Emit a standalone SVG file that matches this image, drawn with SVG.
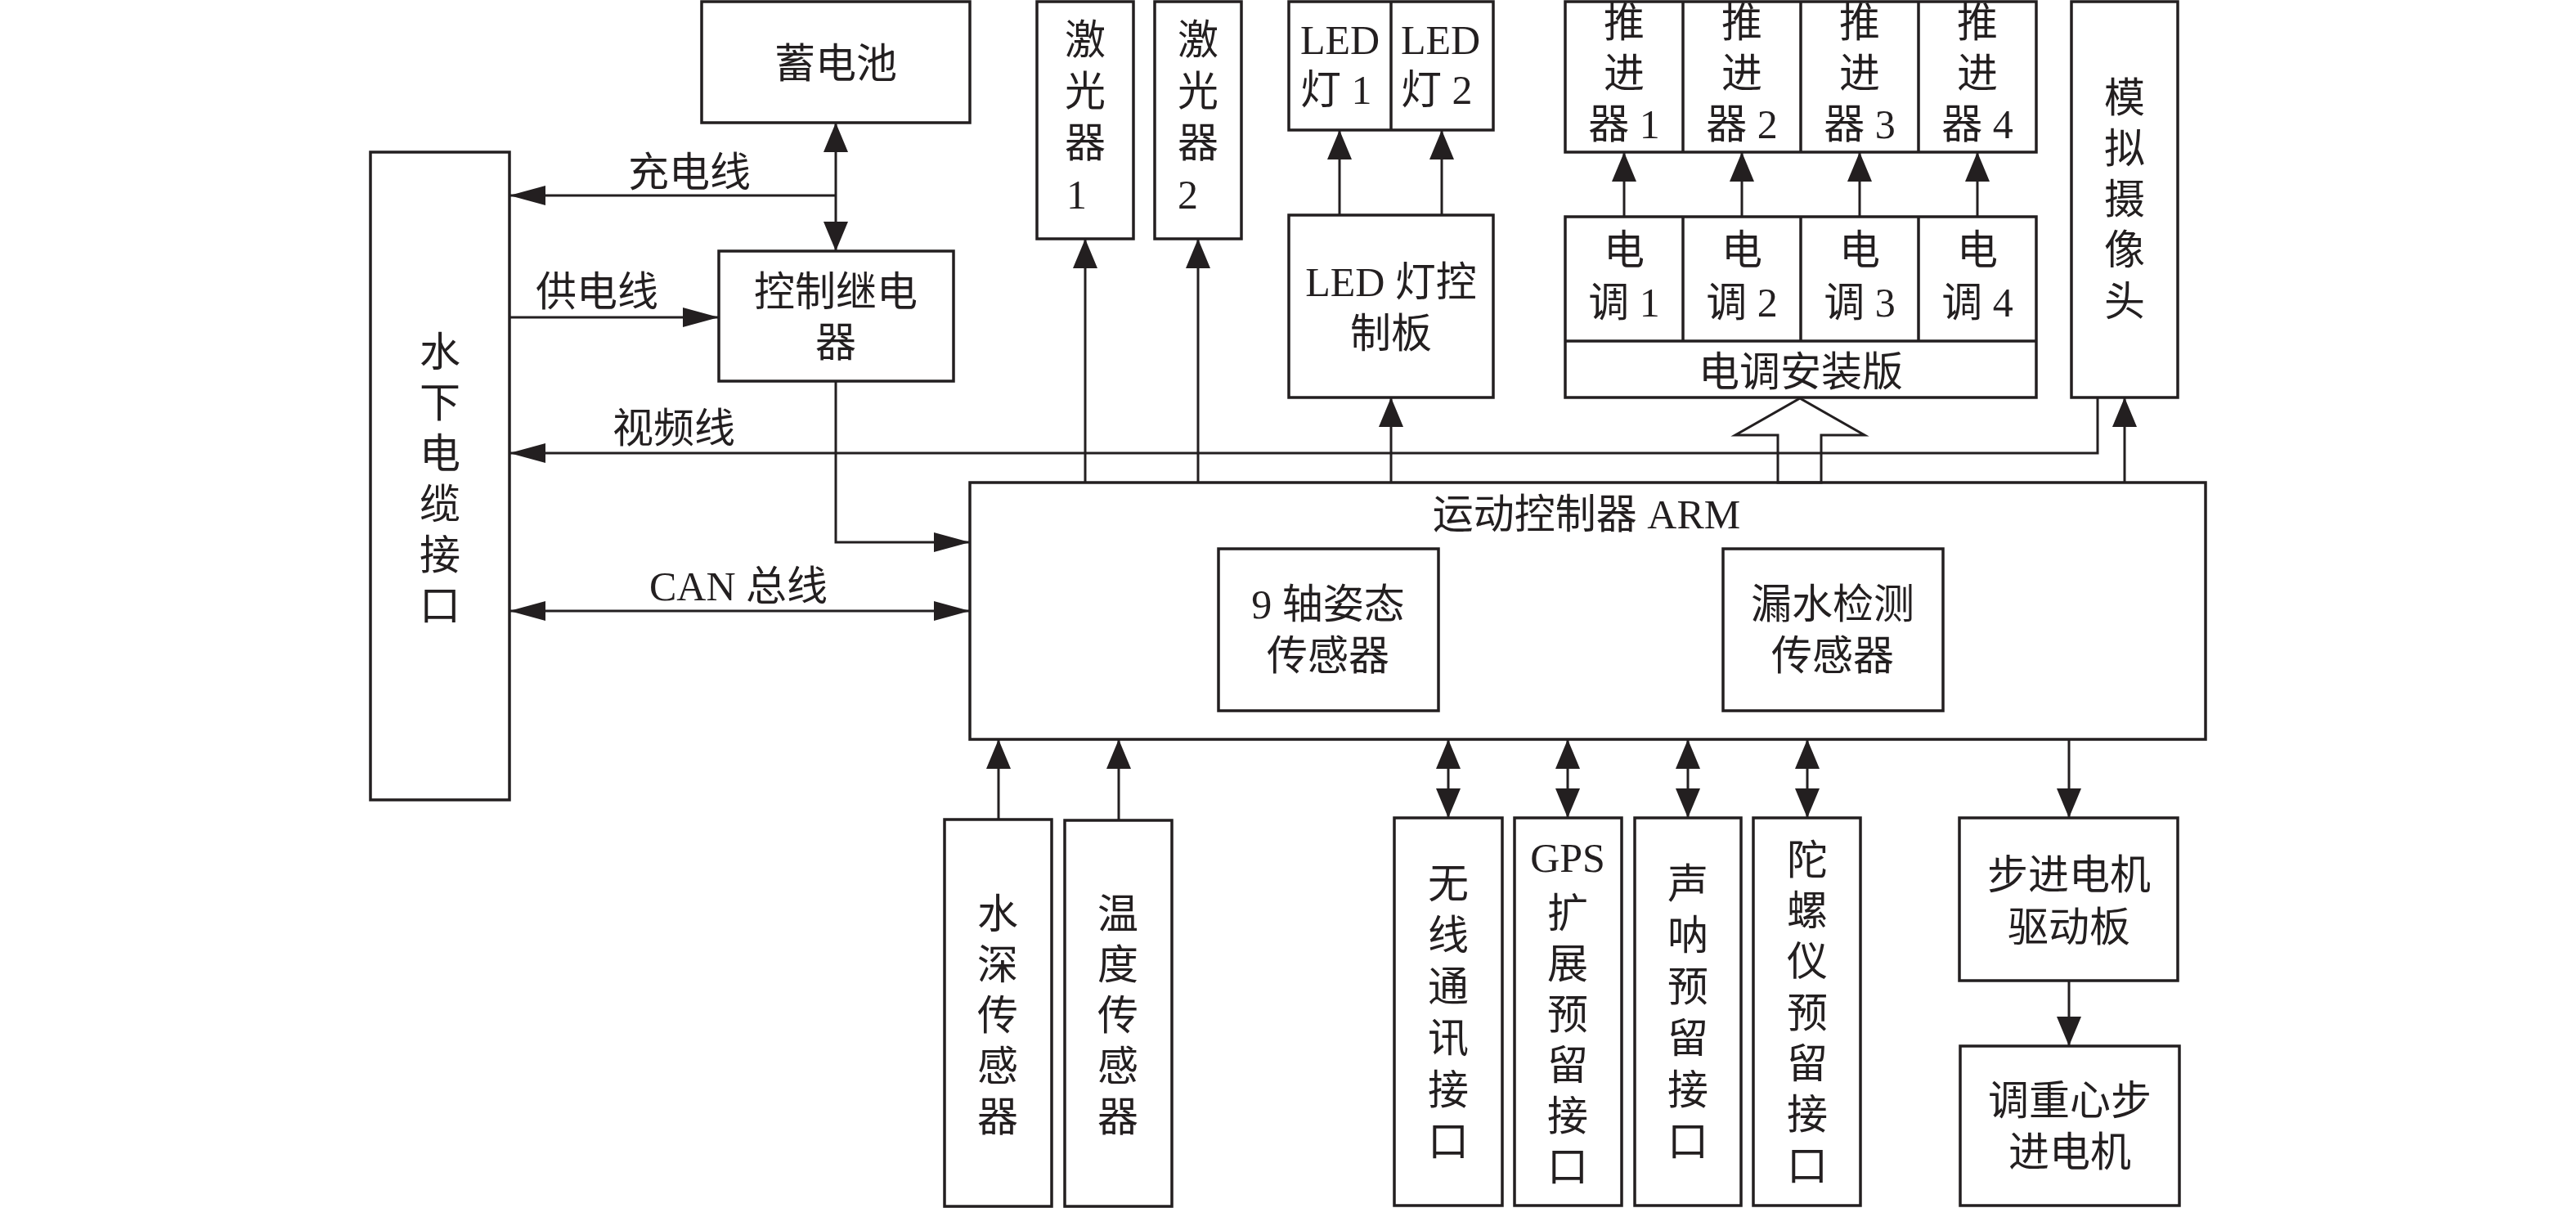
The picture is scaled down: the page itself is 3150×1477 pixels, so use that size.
<svg xmlns="http://www.w3.org/2000/svg" width="3150" height="1477" viewBox="0 0 3150 1477">
<style>
.b{fill:none;stroke:#231f20;stroke-width:3.5}
.c{fill:none;stroke:#231f20;stroke-width:3}
text{font-family:"Liberation Serif","Noto Sans CJK SC",serif;font-size:50px;fill:#231f20}
.m{text-anchor:middle}
</style>
<defs>
<marker id="mh" markerUnits="userSpaceOnUse" markerWidth="44" markerHeight="24" refX="44" refY="12" orient="auto-start-reverse" viewBox="0 0 44 24"><path d="M0,0 L44,12 L0,24 z" fill="#231f20"/></marker>
<marker id="mv" markerUnits="userSpaceOnUse" markerWidth="36" markerHeight="30" refX="36" refY="15" orient="auto-start-reverse" viewBox="0 0 36 30"><path d="M0,0 L36,15 L0,30 z" fill="#231f20"/></marker>
</defs>
<rect width="3150" height="1477" fill="#fff"/>

<g id="battery"><rect class="b" x="858" y="2" width="328" height="148"/><text class="m" x="1022" y="95">蓄电池</text></g>
<g id="cable"><rect class="b" x="453" y="186" width="170" height="792"/>
<text class="m"><tspan x="538" y="448">水</tspan><tspan x="538" y="510">下</tspan><tspan x="538" y="572">电</tspan><tspan x="538" y="634">缆</tspan><tspan x="538" y="696">接</tspan><tspan x="538" y="758">口</tspan></text></g>
<g id="relay"><rect class="b" x="879" y="307" width="287" height="159"/><text class="m"><tspan x="1022" y="374">控制继电</tspan><tspan x="1022" y="436">器</tspan></text></g>
<g id="laser1"><rect class="b" x="1268" y="2" width="118" height="290"/><text><tspan x="1302" y="66">激</tspan><tspan x="1302" y="129">光</tspan><tspan x="1302" y="192">器</tspan><tspan x="1304" y="255">1</tspan></text></g>
<g id="laser2"><rect class="b" x="1412" y="2" width="106" height="290"/><text><tspan x="1440" y="66">激</tspan><tspan x="1440" y="129">光</tspan><tspan x="1440" y="192">器</tspan><tspan x="1440" y="255">2</tspan></text></g>
<g id="led"><rect class="b" x="1576" y="2" width="250" height="157"/><line class="b" x1="1701" y1="2" x2="1701" y2="159"/>
<text><tspan x="1590" y="66">LED</tspan><tspan x="1590" y="127">灯 1</tspan></text>
<text><tspan x="1713" y="66">LED</tspan><tspan x="1713" y="127">灯 2</tspan></text></g>
<g id="ledboard"><rect class="b" x="1576" y="263" width="250" height="223"/><text class="m"><tspan x="1701" y="362">LED 灯控</tspan><tspan x="1701" y="425">制板</tspan></text></g>
<g id="thrusters"><rect class="b" x="1914" y="2" width="576" height="184"/>
<line class="b" x1="2058" y1="2" x2="2058" y2="186"/><line class="b" x1="2202" y1="2" x2="2202" y2="186"/><line class="b" x1="2346" y1="2" x2="2346" y2="186"/>
<text class="m"><tspan x="1986" y="45">推</tspan><tspan x="1986" y="107">进</tspan><tspan x="1986" y="169">器 1</tspan></text>
<text class="m"><tspan x="2130" y="45">推</tspan><tspan x="2130" y="107">进</tspan><tspan x="2130" y="169">器 2</tspan></text>
<text class="m"><tspan x="2274" y="45">推</tspan><tspan x="2274" y="107">进</tspan><tspan x="2274" y="169">器 3</tspan></text>
<text class="m"><tspan x="2418" y="45">推</tspan><tspan x="2418" y="107">进</tspan><tspan x="2418" y="169">器 4</tspan></text></g>
<g id="esc"><rect class="b" x="1914" y="265" width="576" height="221"/><line class="b" x1="1914" y1="417" x2="2490" y2="417"/>
<line class="b" x1="2058" y1="265" x2="2058" y2="417"/><line class="b" x1="2202" y1="265" x2="2202" y2="417"/><line class="b" x1="2346" y1="265" x2="2346" y2="417"/>
<text class="m"><tspan x="1986" y="323">电</tspan><tspan x="1986" y="387">调 1</tspan></text>
<text class="m"><tspan x="2130" y="323">电</tspan><tspan x="2130" y="387">调 2</tspan></text>
<text class="m"><tspan x="2274" y="323">电</tspan><tspan x="2274" y="387">调 3</tspan></text>
<text class="m"><tspan x="2418" y="323">电</tspan><tspan x="2418" y="387">调 4</tspan></text>
<text class="m" x="2202" y="472">电调安装版</text></g>
<g id="camera"><rect class="b" x="2533" y="2" width="130" height="484"/>
<text class="m"><tspan x="2598" y="137">模</tspan><tspan x="2598" y="199">拟</tspan><tspan x="2598" y="261">摄</tspan><tspan x="2598" y="323">像</tspan><tspan x="2598" y="386">头</tspan></text></g>
<g id="arm"><rect class="b" x="1186" y="590" width="1511" height="314"/><text class="m" x="1940" y="646">运动控制器 ARM</text></g>
<g id="imu"><rect class="b" x="1490" y="671" width="269" height="198"/><text class="m"><tspan x="1624" y="756">9 轴姿态</tspan><tspan x="1624" y="819">传感器</tspan></text></g>
<g id="leak"><rect class="b" x="2107" y="671" width="269" height="198"/><text class="m"><tspan x="2241" y="756">漏水检测</tspan><tspan x="2241" y="819">传感器</tspan></text></g>
<g id="depth"><rect class="b" x="1155" y="1002" width="131" height="473"/>
<text class="m"><tspan x="1220" y="1135">水</tspan><tspan x="1220" y="1197">深</tspan><tspan x="1220" y="1259">传</tspan><tspan x="1220" y="1321">感</tspan><tspan x="1220" y="1383">器</tspan></text></g>
<g id="temp"><rect class="b" x="1302" y="1003" width="131" height="472"/>
<text class="m"><tspan x="1367" y="1135">温</tspan><tspan x="1367" y="1197">度</tspan><tspan x="1367" y="1259">传</tspan><tspan x="1367" y="1321">感</tspan><tspan x="1367" y="1383">器</tspan></text></g>
<g id="wireless"><rect class="b" x="1705" y="1000" width="132" height="474"/>
<text class="m"><tspan x="1771" y="1098">无</tspan><tspan x="1771" y="1161">线</tspan><tspan x="1771" y="1224">通</tspan><tspan x="1771" y="1287">讯</tspan><tspan x="1771" y="1350">接</tspan><tspan x="1771" y="1413">口</tspan></text></g>
<g id="gps"><rect class="b" x="1852" y="1000" width="131" height="474"/>
<text class="m"><tspan x="1917" y="1066">GPS</tspan><tspan x="1917" y="1134">扩</tspan><tspan x="1917" y="1196">展</tspan><tspan x="1917" y="1258">预</tspan><tspan x="1917" y="1320">留</tspan><tspan x="1917" y="1382">接</tspan><tspan x="1917" y="1444">口</tspan></text></g>
<g id="sonar"><rect class="b" x="1999" y="1000" width="130" height="474"/>
<text class="m"><tspan x="2064" y="1098">声</tspan><tspan x="2064" y="1161">呐</tspan><tspan x="2064" y="1224">预</tspan><tspan x="2064" y="1287">留</tspan><tspan x="2064" y="1350">接</tspan><tspan x="2064" y="1413">口</tspan></text></g>
<g id="gyro"><rect class="b" x="2144" y="1000" width="131" height="474"/>
<text class="m"><tspan x="2210" y="1069">陀</tspan><tspan x="2210" y="1131">螺</tspan><tspan x="2210" y="1193">仪</tspan><tspan x="2210" y="1256">预</tspan><tspan x="2210" y="1318">留</tspan><tspan x="2210" y="1380">接</tspan><tspan x="2210" y="1443">口</tspan></text></g>
<g id="stepdriver"><rect class="b" x="2396" y="1000" width="267" height="199"/><text class="m"><tspan x="2530" y="1087">步进电机</tspan><tspan x="2530" y="1151">驱动板</tspan></text></g>
<g id="cogmotor"><rect class="b" x="2397" y="1279" width="268" height="195"/><text class="m"><tspan x="2531" y="1363">调重心步</tspan><tspan x="2531" y="1426">进电机</tspan></text></g>

<g id="connectors">
<line class="c" x1="1022" y1="150" x2="1022" y2="307" marker-start="url(#mv)" marker-end="url(#mv)"/>
<polyline class="c" points="1022,239 623,239" marker-end="url(#mh)"/>
<polyline class="c" points="623,388 879,388" marker-end="url(#mh)"/>
<polyline class="c" points="2565,486 2565,554 623,554" marker-end="url(#mh)"/>
<polyline class="c" points="1022,466 1022,663 1186,663" marker-end="url(#mh)"/>
<line class="c" x1="623" y1="747" x2="1186" y2="747" marker-start="url(#mh)" marker-end="url(#mh)"/>
<line class="c" x1="1327" y1="590" x2="1327" y2="292" marker-end="url(#mv)"/>
<line class="c" x1="1465" y1="590" x2="1465" y2="292" marker-end="url(#mv)"/>
<line class="c" x1="1701" y1="590" x2="1701" y2="486" marker-end="url(#mv)"/>
<line class="c" x1="1638" y1="263" x2="1638" y2="159" marker-end="url(#mv)"/>
<line class="c" x1="1763" y1="263" x2="1763" y2="159" marker-end="url(#mv)"/>
<line class="c" x1="1986" y1="265" x2="1986" y2="186" marker-end="url(#mv)"/>
<line class="c" x1="2130" y1="265" x2="2130" y2="186" marker-end="url(#mv)"/>
<line class="c" x1="2274" y1="265" x2="2274" y2="186" marker-end="url(#mv)"/>
<line class="c" x1="2418" y1="265" x2="2418" y2="186" marker-end="url(#mv)"/>
<polygon class="c" points="2174,590 2174,532 2122,532 2201,487 2280,532 2227,532 2227,590" fill="#fff"/>
<line class="c" x1="2598" y1="590" x2="2598" y2="486" marker-end="url(#mv)"/>
<line class="c" x1="1221" y1="1002" x2="1221" y2="904" marker-end="url(#mv)"/>
<line class="c" x1="1368" y1="1003" x2="1368" y2="904" marker-end="url(#mv)"/>
<line class="c" x1="1771" y1="904" x2="1771" y2="1000" marker-start="url(#mv)" marker-end="url(#mv)"/>
<line class="c" x1="1917" y1="904" x2="1917" y2="1000" marker-start="url(#mv)" marker-end="url(#mv)"/>
<line class="c" x1="2064" y1="904" x2="2064" y2="1000" marker-start="url(#mv)" marker-end="url(#mv)"/>
<line class="c" x1="2210" y1="904" x2="2210" y2="1000" marker-start="url(#mv)" marker-end="url(#mv)"/>
<line class="c" x1="2530" y1="904" x2="2530" y2="1000" marker-end="url(#mv)"/>
<line class="c" x1="2530" y1="1199" x2="2530" y2="1279" marker-end="url(#mv)"/>
<text class="m" x="843" y="228">充电线</text>
<text class="m" x="730" y="374">供电线</text>
<text class="m" x="824" y="541">视频线</text>
<text class="m" x="903" y="734">CAN 总线</text>
</g>
</svg>
